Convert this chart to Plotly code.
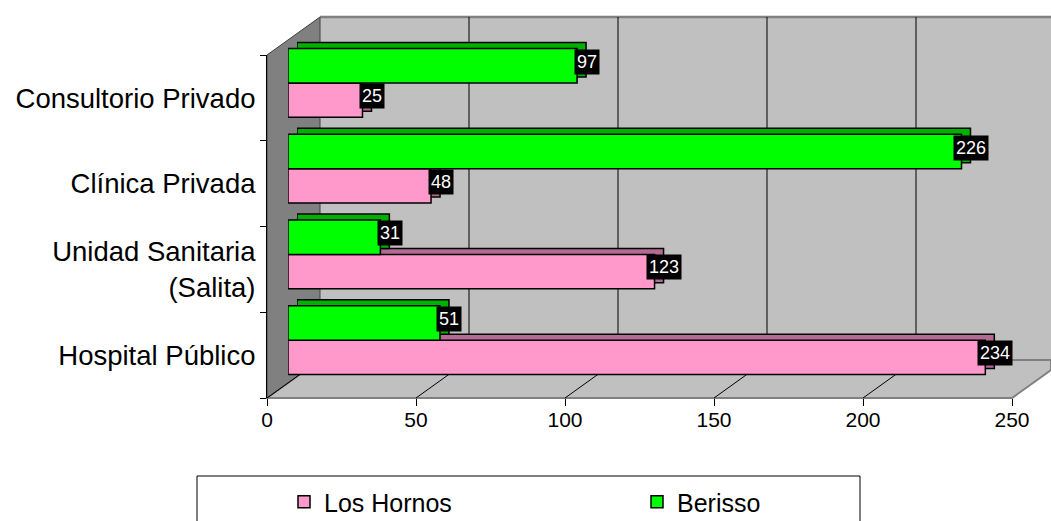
import plotly.graph_objects as go

# ---------------- data ----------------
categories = ["Hospital Público", "Unidad Sanitaria<br>(Salita)", "Clínica Privada", "Consultorio Privado"]
los_hornos = [234, 123, 48, 25]
berisso = [51, 31, 226, 97]
x_ticks = [0, 50, 100, 150, 200, 250]
series_names = ["Los Hornos", "Berisso"]

# ---------------- style ----------------
W, H = 1051, 521
FONT = "Liberation Sans, Arial, sans-serif"
PINK, GREEN = "#FF99CC", "#00FF00"
PINK_SIDE, GREEN_SIDE = "#B46A94", "#00B000"
WALL, SIDE_WALL, EDGE = "#C0C0C0", "#808080", "#808080"


def fx(px):
    return min(max(px / W, 0.0), 1.0)


def fy(py):
    return min(max(1 - py / H, 0.0), 1.0)


# pixel geometry of the pseudo-3D frame
FRONT_X0, FRONT_X1, FRONT_Y0, FRONT_Y1 = 267, 1012, 55, 398
DX, DY = 53, -38                      # depth of the box
BAR_DX, BAR_DY = 21, -15              # depth of the bar front faces
SH_DX, SH_DY = 9, -6                  # thickness of the bars
SCALE = (FRONT_X1 - FRONT_X0) / 250.0

fig = go.Figure()

# shadow (depth) copies of the bars, behind the fronts
for vals, name, col in [(los_hornos, series_names[0], PINK_SIDE), (berisso, series_names[1], GREEN_SIDE)]:
    fig.add_trace(go.Bar(
        y=categories, x=vals, orientation="h", name=name, showlegend=False,
        marker=dict(color=col, line=dict(color="black", width=1.5)),
        xaxis="x", yaxis="y", hoverinfo="skip"))

# front faces of the bars
for vals, name, col in [(los_hornos, series_names[0], PINK), (berisso, series_names[1], GREEN)]:
    fig.add_trace(go.Bar(
        y=categories, x=vals, orientation="h", name=name,
        marker=dict(color=col, line=dict(color="black", width=1.5)),
        xaxis="x2", yaxis="y2"))

# invisible trace carrying the visible (front-plane) axes
fig.add_trace(go.Scatter(x=[None], y=[None], xaxis="x3", yaxis="y3",
                         showlegend=False, hoverinfo="skip", mode="markers"))

# ---------------- frame shapes ----------------
shapes = []


def poly(points, fill, line_color, lw=1, layer="below"):
    path = "M " + " L ".join(f"{fx(a)},{fy(b)}" for a, b in points) + " Z"
    return dict(type="path", xref="paper", yref="paper", path=path,
                fillcolor=fill, line=dict(color=line_color, width=lw), layer=layer)


def seg(p, q, color="black", lw=1):
    return dict(type="line", xref="paper", yref="paper",
                x0=fx(p[0]), y0=fy(p[1]), x1=fx(q[0]), y1=fy(q[1]),
                line=dict(color=color, width=lw), layer="below")


back_y0, back_y1 = FRONT_Y0 + DY, FRONT_Y1 + DY
# back wall
shapes.append(poly([(FRONT_X0 + DX, back_y0), (W, back_y0), (W, back_y1), (FRONT_X0 + DX, back_y1)], WALL, WALL, 0))
shapes.append(seg((FRONT_X0 + DX, back_y0), (W, back_y0), EDGE, 2.5))
# floor (right end cut by the chart edge)
cut_y = FRONT_Y1 + DY * (W - FRONT_X1) / DX
shapes.append(poly([(FRONT_X0, FRONT_Y1), (FRONT_X1, FRONT_Y1), (W, cut_y), (W, back_y1), (FRONT_X0 + DX, back_y1)], WALL, EDGE, 2))
# left wall
shapes.append(poly([(FRONT_X0, FRONT_Y0), (FRONT_X0 + DX, back_y0), (FRONT_X0 + DX, back_y1), (FRONT_X0, FRONT_Y1)], SIDE_WALL, "#404040", 1))
# gridlines on back wall and floor
for t in x_ticks:
    bx = FRONT_X0 + DX + t * SCALE
    fxp = FRONT_X0 + t * SCALE
    if 0 < t < 250:
        shapes.append(seg((bx, back_y0), (bx, back_y1), "black", 1))
        shapes.append(seg((fxp, FRONT_Y1), (bx, back_y1), "black", 1))
    elif t == 0:
        shapes.append(seg((fxp, FRONT_Y1), (bx, back_y1), "black", 1))
# legend box
shapes.append(dict(type="rect", xref="paper", yref="paper",
                   x0=fx(197), y0=-0.05, x1=fx(860), y1=fy(476),
                   line=dict(color="black", width=1), fillcolor="white", layer="below"))

# ---------------- data labels ----------------
annotations = []
for vals, ysh in [(los_hornos, -13), (berisso, 21)]:
    for c, v in zip(categories, vals):
        annotations.append(dict(
            x=v, y=c, xref="x2", yref="y2", text=str(v), showarrow=False,
            xanchor="center", yanchor="middle", xshift=9.5, yshift=ysh,
            font=dict(family=FONT, size=18, color="white"),
            bgcolor="black", borderpad=2))

bar_x0 = FRONT_X0 + BAR_DX
bar_y0, bar_y1 = FRONT_Y0 + BAR_DY, FRONT_Y1 + BAR_DY

fig.update_layout(
    width=W, height=H, margin=dict(l=0, r=0, t=0, b=0, autoexpand=False),
    paper_bgcolor="white", plot_bgcolor="rgba(0,0,0,0)",
    font=dict(family=FONT, color="black"),
    barmode="group", bargap=0.2, bargroupgap=0.0,
    shapes=shapes, annotations=annotations,
    xaxis=dict(domain=[fx(bar_x0 + SH_DX), fx(bar_x0 + SH_DX + 250 * SCALE)], range=[0, 250],
               visible=False, anchor="y"),
    yaxis=dict(domain=[fy(bar_y1 + SH_DY), fy(bar_y0 + SH_DY)], range=[-0.5, 3.5],
               type="category", categoryorder="array", categoryarray=categories,
               visible=False, anchor="x"),
    xaxis2=dict(domain=[fx(bar_x0), fx(bar_x0 + 250 * SCALE)], range=[0, 250],
                visible=False, anchor="y2"),
    yaxis2=dict(domain=[fy(bar_y1), fy(bar_y0)], range=[-0.5, 3.5],
                type="category", categoryorder="array", categoryarray=categories,
                visible=False, anchor="x2"),
    xaxis3=dict(domain=[fx(FRONT_X0), fx(FRONT_X1)], range=[0, 250], anchor="y3",
                tickvals=x_ticks, ticks="outside", ticklen=7, tickcolor="black",
                ticklabelstandoff=-4, automargin=False,
                showgrid=False, zeroline=False, showline=False,
                tickfont=dict(family=FONT, size=21, color="black")),
    yaxis3=dict(domain=[fy(FRONT_Y1), fy(FRONT_Y0)], range=[-0.5, 3.5], type="linear",
                anchor="x3", tickvals=[0, 1, 2, 3], ticktext=categories, ticks="",
                ticklabelstandoff=5, automargin=False,
                minor=dict(tickvals=[-0.5, 0.5, 1.5, 2.5, 3.5], ticks="outside",
                           ticklen=6, tickcolor="black"),
                showgrid=False, zeroline=False, showline=True, linecolor="black", linewidth=1,
                tickfont=dict(family=FONT, size=27.5, color="black")),
    legend=dict(orientation="h", x=fx(284), y=fy(479), xanchor="left", yanchor="top",
                bgcolor="rgba(0,0,0,0)", borderwidth=0, entrywidth=308,
                font=dict(family=FONT, size=25, color="black")),
)

fig.write_html(
    "out.html",
    config={"displayModeBar": False},
    post_script="document.body.style.margin='0px';document.body.style.overflow='hidden';",
)
